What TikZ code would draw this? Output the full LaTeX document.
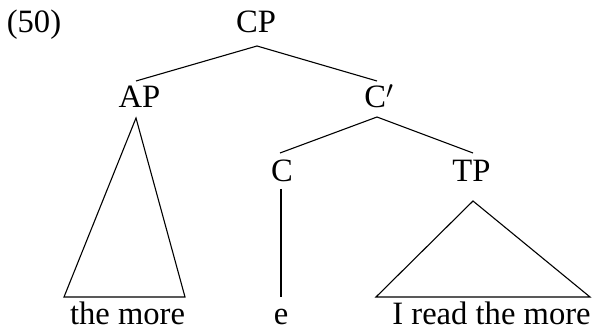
\documentclass[tikz,border=0pt]{standalone}
\usepackage{fontspec}
\setmainfont{Liberation Serif}
\begin{document}
\begin{tikzpicture}[x=1pt,y=-1pt,
  lbl/.style={anchor=base,inner sep=0pt,font=\fontsize{32.6}{39}\selectfont},
  edge/.style={line width=1.1pt,line join=miter}]
\useasboundingbox (0,0) rectangle (592,328);
% labels
\node[lbl] (ex) at (34,33) {(50)};
\node[lbl] (CP) at (256,33) {CP};
\node[lbl] (AP) at (139.5,108) {AP};
\node[lbl] (Cbar) at (379,108) {C$'$};
\node[lbl] (C) at (282,182) {C};
\node[lbl] (TP) at (471.5,182) {TP};
\node[lbl] (w1) at (127.5,325) {the more};
\node[lbl] (w2) at (281,325) {e};
\node[lbl] (w3) at (491.5,325) {I read the more};
% attachment points
\coordinate (CPb) at (257,46);
\coordinate (APt) at (136,81);
\coordinate (Cbt) at (377,81);
\coordinate (Cbb) at (377,117);
\coordinate (Ct) at (280,153);
\coordinate (TPt) at (473,153);
\coordinate (APa) at (136,118);
\coordinate (APl) at (64,297);
\coordinate (APr) at (185,297);
\coordinate (Cb) at (281,189);
\coordinate (eT) at (281,297);
\coordinate (TPa) at (473,201);
\coordinate (TPl) at (376,297);
\coordinate (TPr) at (590,297);
% branches
\draw[edge] (APt) -- (CPb) -- (Cbt);
\draw[edge] (Ct) -- (Cbb) -- (TPt);
\draw[edge] (Cb) -- (eT);
\draw[edge] (APa) -- (APl) -- (APr) -- cycle;
\draw[edge] (TPa) -- (TPl) -- (TPr) -- cycle;
\end{tikzpicture}
\end{document}
